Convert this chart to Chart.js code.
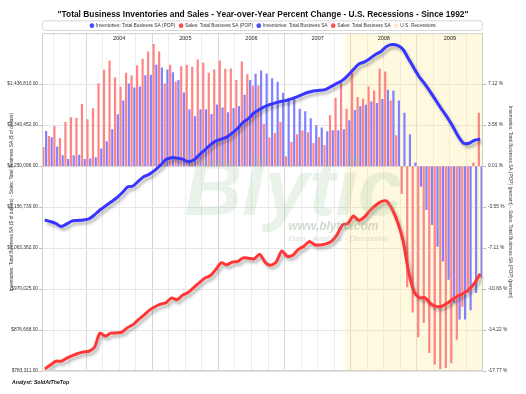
<!DOCTYPE html>
<html><head><meta charset="utf-8">
<script src="https://cdn.jsdelivr.net/npm/chart.js@4"></script>
<style>html,body{margin:0;padding:0;background:#fff}</style>
</head><body>
<canvas id="c" width="526" height="394"></canvas>
<script>
const months = [
 'May 2003','Jun 2003','Jul 2003','Aug 2003','Sep 2003','Oct 2003','Nov 2003','Dec 2003',
 'Jan 2004','Feb 2004','Mar 2004','Apr 2004','May 2004','Jun 2004','Jul 2004','Aug 2004','Sep 2004','Oct 2004','Nov 2004','Dec 2004',
 'Jan 2005','Feb 2005','Mar 2005','Apr 2005','May 2005','Jun 2005','Jul 2005','Aug 2005','Sep 2005','Oct 2005','Nov 2005','Dec 2005',
 'Jan 2006','Feb 2006','Mar 2006','Apr 2006','May 2006','Jun 2006','Jul 2006','Aug 2006','Sep 2006','Oct 2006','Nov 2006','Dec 2006',
 'Jan 2007','Feb 2007','Mar 2007','Apr 2007','May 2007','Jun 2007','Jul 2007','Aug 2007','Sep 2007','Oct 2007','Nov 2007','Dec 2007',
 'Jan 2008','Feb 2008','Mar 2008','Apr 2008','May 2008','Jun 2008','Jul 2008','Aug 2008','Sep 2008','Oct 2008','Nov 2008','Dec 2008',
 'Jan 2009','Feb 2009','Mar 2009','Apr 2009','May 2009','Jun 2009','Jul 2009','Aug 2009','Sep 2009','Oct 2009','Nov 2009','Dec 2009'
];
// Inventories: Total Business SA (POP) - percent
const invPOP = [
 3.05, 2.5, 1.7, 0.95, 0.63, 0.95, 1.0, 0.63,
 0.66, 0.78, 1.53, 2.16, 3.2, 4.5, 5.7, 7.18, 6.83, 6.92, 7.9, 7.93,
 8.8, 8.56, 8.39, 8.16, 7.47, 6.4, 4.93, 4.33, 4.93, 4.93, 4.52, 5.36,
 5.1, 4.67, 5.04, 5.22, 6.2, 7.47, 8.02, 8.3, 8.04, 7.64, 7.33, 6.37,
 5.94, 5.94, 4.99, 4.76, 4.15, 3.55, 3.35, 3.03, 3.11, 3.11, 3.2, 3.98,
 4.87, 5.19, 5.33, 5.62, 5.48, 5.82, 6.63, 6.57, 5.71, 4.64, 2.77, 0.32,
 -1.79, -3.8, -5.1, -6.98, -8.28, -9.86, -11.9, -13.3, -13.3, -12.5, -11.0, -9.7
];
// Sales: Total Business SA (POP) - percent
const salesPOP = [
 1.67, 2.62, 3.49, 2.45, 3.83, 4.24, 4.2, 5.39,
 4.07, 5.02, 7.2, 8.36, 9.17, 7.7, 6.89, 8.1, 7.87, 8.74, 9.32, 9.95,
 10.6, 9.95, 7.18, 8.8, 7.35, 8.68, 8.8, 8.62, 9.26, 8.97, 8.1, 8.39,
 9.17, 8.45, 8.48, 7.47, 9.08, 7.98, 7.0, 7.0, 3.69, 2.48, 2.88, 3.83,
 0.87, 2.1, 2.77, 3.11, 2.94, 2.02, 2.51, 1.84, 4.41, 5.94, 7.4, 4.99,
 8.1, 6.0, 5.85, 6.92, 6.57, 8.45, 8.22, 5.71, 2.68, -2.42, -10.5, -12.7,
 -14.85, -13.6, -16.2, -17.2, -17.6, -17.5, -17.1, -15.05, -12.2, -11.0, 0.32, 4.64
];
// Inventories: Total Business SA - dollars
const invLevel = [
 1127400, 1124000, 1119500, 1112700, 1118300, 1125200, 1126300, 1127400,
 1129700, 1138800, 1150150, 1159200, 1168300, 1177400, 1188800, 1202400, 1204700, 1216000, 1226200, 1231900,
 1241000, 1252400, 1264900, 1269400, 1268300, 1266000, 1260300, 1263700, 1275100, 1286400, 1297800, 1306900,
 1311400, 1316000, 1325100, 1336400, 1350000, 1359100, 1371600, 1379600, 1386400, 1390900, 1394800, 1397700,
 1400000, 1404600, 1409100, 1414800, 1418900, 1421600, 1422700, 1425000, 1431800, 1438600, 1445400, 1456800,
 1470400, 1482900, 1487500, 1495400, 1504500, 1511300, 1522700, 1527200, 1524900, 1515900, 1494300, 1472700,
 1452300, 1436400, 1418200, 1398900, 1379600, 1361400, 1341000, 1318200, 1302300, 1302300, 1309200, 1311400
];
// Sales: Total Business SA - dollars
const salesLevel = [
 787800, 796900, 805600, 805600, 812800, 818500, 823100, 826500,
 828300, 836700, 869600, 862800, 869600, 870100, 871900, 882100, 888900, 900300, 910500, 921900,
 929800, 935500, 938900, 949600, 945700, 955900, 962100, 973000, 984300, 994600, 1000200, 1013900,
 1029800, 1025200, 1031400, 1032700, 1041100, 1040000, 1038800, 1049100, 1030900, 1024100, 1032000, 1057000,
 1044500, 1046800, 1060400, 1067700, 1078600, 1070600, 1070600, 1072900, 1078600, 1093400, 1116100, 1119500,
 1136500, 1126300, 1134200, 1149000, 1160400, 1169000, 1170600, 1152400, 1122900, 1079700, 1009300, 963900,
 950300, 950300, 936600, 930500, 930900, 937800, 946900, 954800, 960500, 969600, 984300, 1004800
];
// U.S. Recessions (1 = in recession)
const recession = [
 0, 0, 0, 0, 0, 0, 0, 0,
 0, 0, 0, 0, 0, 0, 0, 0, 0, 0, 0, 0,
 0, 0, 0, 0, 0, 0, 0, 0, 0, 0, 0, 0,
 0, 0, 0, 0, 0, 0, 0, 0, 0, 0, 0, 0,
 0, 0, 0, 0, 0, 0, 0, 0, 0, 0, 0, 1,
 1, 1, 1, 1, 1, 1, 1, 1, 1, 1, 1, 1,
 1, 1, 1, 1, 1, 1, 1, 1, 1, 1, 1, 1
];
const leftTicks = [783311, 876668, 970025, 1063382, 1156739, 1250096, 1343452, 1436810];
const rightTicks = [-17.77, -14.22, -10.66, -7.11, -3.55, 0.01, 3.56, 7.12];
const yearLabels = ['2004', '2005', '2006', '2007', '2008', '2009'];

const FONT = '"Liberation Sans", Arial, sans-serif';
function fmtMoney(v) {
  return '$' + Math.round(v).toString().replace(/\B(?=(\d{3})+(?!\d))/g, ',') + '.00';
}

const framePlugin = {
  id: 'frame',
  beforeDraw(chart) {
    const c = chart.ctx, lg = chart.legend;
    if (lg && lg.legendHitBoxes && lg.legendHitBoxes.length) {
      const hb = lg.legendHitBoxes[0];
      const cy = hb.top + hb.height / 2;
      const a = chart.chartArea;
      c.save();
      c.strokeStyle = '#d6d6d6';
      c.lineWidth = 1;
      c.beginPath();
      c.roundRect(a.left + 0.5, cy - 4.8, a.right - a.left - 1, 9.6, 3);
      c.stroke();
      c.restore();
    }
  },
  afterDatasetsDraw(chart) {
    const c = chart.ctx, a = chart.chartArea, xs = chart.scales.x;
    // watermark
    c.save();
    const cx = a.left + (a.right - a.left) * 0.57;
    c.textAlign = 'center';
    c.textBaseline = 'alphabetic';
    c.fillStyle = 'rgba(150,195,150,0.20)';
    c.font = 'italic bold 80px ' + FONT;
    c.fillText('Blytic', cx, a.top + 182);
    c.fillStyle = 'rgba(120,150,120,0.35)';
    c.font = 'italic bold 12px ' + FONT;
    c.fillText('www.blytic.com', cx + 40, a.top + 197);
    c.fillStyle = 'rgba(150,160,150,0.35)';
    c.font = 'italic 8px ' + FONT;
    c.fillText('Data - Analysis - Discussion', cx + 45, a.top + 208);
    c.restore();
    // year labels in the top band
    c.save();
    c.fillStyle = '#222';
    c.font = '5.5px ' + FONT;
    c.textAlign = 'center';
    c.textBaseline = 'middle';
    yearLabels.forEach(y => {
      const i = months.indexOf('Jan ' + y);
      c.fillText(y, xs.getPixelForValue(i + 5.5), a.top + 5);
    });
    c.restore();
    // plot frame
    c.save();
    c.strokeStyle = '#cfcfcf';
    c.lineWidth = 1;
    c.strokeRect(a.left + 0.5, a.top + 0.5, a.right - a.left - 1, a.bottom - a.top - 1);
    c.restore();
  },
  afterDraw(chart) {
    const c = chart.ctx, a = chart.chartArea;
    c.save();
    c.fillStyle = '#111';
    c.font = 'italic bold 5.2px ' + FONT;
    c.textBaseline = 'middle';
    c.fillText('Analyst: SoldAtTheTop', 12, a.bottom + 11.5);
    c.restore();
  }
};

const shadowPlugin = {
  id: 'lineShadow',
  beforeDatasetDraw(chart, args) {
    if (chart.data.datasets[args.index].type === 'line') {
      const c = chart.ctx;
      c.save();
      c.shadowColor = 'rgba(0,0,0,0.28)';
      c.shadowBlur = 3;
      c.shadowOffsetX = 2;
      c.shadowOffsetY = 3;
    }
  },
  afterDatasetDraw(chart, args) {
    if (chart.data.datasets[args.index].type === 'line') chart.ctx.restore();
  }
};

const legendColors = ['#4a4aff', '#ff5050', '#4a4aff', '#ff5050', '#fde9b8'];

new Chart(document.getElementById('c'), {
  data: {
    labels: months,
    datasets: [
      { type: 'bar', label: 'Inventories: Total Business SA (POP)', data: invPOP, yAxisID: 'yR',
        backgroundColor: '#8282ff', borderWidth: 0, order: 2, categoryPercentage: 1, barPercentage: 0.8, inflateAmount: 0 },
      { type: 'bar', label: 'Sales: Total Business SA (POP)', data: salesPOP, yAxisID: 'yR',
        backgroundColor: '#ff8585', borderWidth: 0, order: 1, categoryPercentage: 1, barPercentage: 0.8, inflateAmount: 0 },
      { type: 'line', label: 'Inventories: Total Business SA', data: invLevel, yAxisID: 'yL',
        borderColor: '#3636ff', backgroundColor: '#3636ff', borderWidth: 3, pointRadius: 0, tension: 0.25, order: 0 },
      { type: 'line', label: 'Sales: Total Business SA', data: salesLevel, yAxisID: 'yL',
        borderColor: '#ff3636', backgroundColor: '#ff3636', borderWidth: 3, pointRadius: 0, tension: 0.25, order: 0 },
      { type: 'bar', label: 'U.S. Recessions', data: recession, yAxisID: 'yRec', grouped: false,
        backgroundColor: 'rgba(255,236,150,0.30)', borderWidth: 0, order: 3, categoryPercentage: 1, barPercentage: 1, inflateAmount: 0 }
    ]
  },
  options: {
    responsive: false,
    animation: false,
    devicePixelRatio: 1,
    layout: { padding: { top: 0, bottom: 23, left: 0, right: 0 } },
    plugins: {
      title: {
        display: true,
        text: '"Total Business Inventories and Sales - Year-over-Year Percent Change - U.S. Recessions - Since 1992"',
        font: { size: 8.4, weight: 'bold', family: FONT }, color: '#111',
        padding: { top: 9.2, bottom: 0 }
      },
      legend: {
        display: true, position: 'top', maxHeight: 13.9,
        labels: {
          usePointStyle: true, pointStyle: 'circle', boxWidth: 3.3, boxHeight: 3.3, padding: 4,
          font: { size: 4.8, family: FONT }, color: '#333',
          generateLabels: (chart) => Chart.defaults.plugins.legend.labels.generateLabels(chart).map(l => Object.assign(l, {
            lineWidth: 0, fillStyle: legendColors[l.datasetIndex], strokeStyle: legendColors[l.datasetIndex]
          })),
          sort: (a, b) => a.datasetIndex - b.datasetIndex
        }
      },
      tooltip: { enabled: false }
    },
    scales: {
      x: {
        type: 'category', offset: true,
        grid: {
          offset: true, drawTicks: false, lineWidth: 1,
          color: (ctx) => {
            const m = months[ctx.index] || '';
            if (m.startsWith('Jan')) return '#d8d8d8';
            if (m.startsWith('Apr') || m.startsWith('Jul') || m.startsWith('Oct')) return '#ededed';
            return 'rgba(0,0,0,0)';
          }
        },
        ticks: { display: false, autoSkip: false },
        border: { display: false }
      },
      yL: {
        type: 'linear', position: 'left', min: 783311, max: 1552950,
        afterBuildTicks: (s) => { s.ticks = leftTicks.map(v => ({ value: v })); },
        afterFit: (s) => { s.width = 42; },
        ticks: { callback: (v) => fmtMoney(v), font: { size: 4.8, family: FONT }, color: '#333', padding: 1 },
        grid: { color: '#e6e6e6', tickLength: 3, tickColor: '#bbb' },
        border: { display: false },
        title: {
          display: true,
          text: 'Inventories: Total Business SA ($ of dollars) - Sales: Total Business SA ($ of dollars)',
          font: { size: 4.8, family: FONT }, color: '#333', padding: { top: 9 }
        }
      },
      yR: {
        type: 'linear', position: 'right', min: -17.77, max: 11.54,
        afterBuildTicks: (s) => { s.ticks = rightTicks.map(v => ({ value: v })); },
        afterFit: (s) => { s.width = 43; },
        ticks: { callback: (v) => v.toFixed(2) + ' %', font: { size: 4.8, family: FONT }, color: '#333', padding: 2 },
        grid: { drawOnChartArea: false, tickLength: 3, color: '#bbb' },
        border: { display: false },
        title: {
          display: true,
          text: 'Inventories: Total Business SA (POP) (percent) - Sales: Total Business SA (POP) (percent)',
          font: { size: 4.8, family: FONT }, color: '#333', padding: { top: 12.6 }
        }
      },
      yRec: { type: 'linear', display: false, min: 0, max: 1 }
    }
  },
  plugins: [framePlugin, shadowPlugin]
});
</script>
</body></html>
